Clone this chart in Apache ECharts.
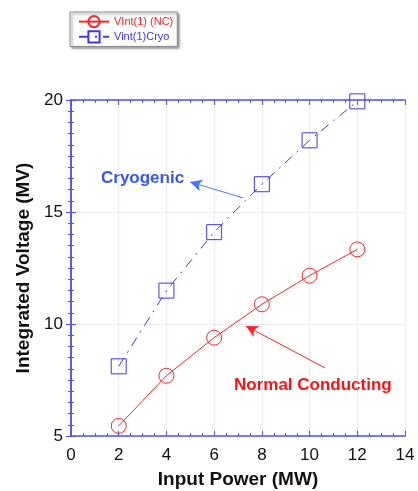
<!DOCTYPE html>
<html>
<head>
<meta charset="utf-8">
<script src="https://cdn.jsdelivr.net/npm/echarts@6/dist/echarts.min.js"></script>
<style>
  html, body { margin: 0; padding: 0; background: #fff; }
  #chart { width: 418px; height: 491px; }
</style>
</head>
<body>
<div id="chart"></div>
<script>
const power = [2, 4, 6, 8, 10, 12];
const vintNC = [5.45, 7.69, 9.39, 10.88, 12.16, 13.33];
const vintCryo = [8.11, 11.49, 14.1, 16.24, 18.2, 19.94];

const FONT = '"Liberation Sans", Arial, sans-serif';
const AXIS_COLOR = '#5050f0';
const RED = '#ff2222';
const BLUE = '#4433ee';

const chart = echarts.init(document.getElementById('chart'));

const tickCommon = {
  axisLine: { show: true, lineStyle: { color: AXIS_COLOR, width: 1.5 } },
  axisTick: { show: true, inside: true, length: 5, lineStyle: { color: AXIS_COLOR } },
  minorTick: { show: true, splitNumber: 4, length: 3, lineStyle: { color: AXIS_COLOR } }
};
const yMinor = { minorTick: { show: true, splitNumber: 10, length: 3, lineStyle: { color: AXIS_COLOR } } };

chart.setOption({
  animation: false,
  textStyle: { fontFamily: FONT },
  grid: { left: 71, right: 13, top: 100, bottom: 55, outerBoundsMode: 'none', containLabel: false },
  legend: {
    orient: 'vertical',
    left: 70, top: 12,
    itemWidth: 30, itemHeight: 14, itemGap: 2,
    padding: [3, 4, 3, 8],
    borderColor: '#888', borderWidth: 1,
    shadowColor: 'rgba(0,0,0,0.4)', shadowOffsetX: 2, shadowOffsetY: 2, shadowBlur: 2,
    backgroundColor: '#fff',
    textStyle: { fontSize: 11, fontFamily: FONT },
    data: [
      { name: 'VInt(1) (NC)', textStyle: { color: RED } },
      { name: 'Vint(1)Cryo', textStyle: { color: BLUE } }
    ]
  },
  xAxis: [
    Object.assign({
      type: 'value', min: 0, max: 14, interval: 2,
      name: 'Input Power (MW)', nameLocation: 'middle', nameGap: 34,
      nameTextStyle: { fontSize: 19, fontWeight: 'bold', color: '#111' },
      axisLabel: { fontSize: 17, color: '#111', margin: 11 },
      splitLine: { show: true, lineStyle: { color: '#d8d8f0', type: 'dotted' } }
    }, tickCommon),
    Object.assign({
      type: 'value', min: 0, max: 14, interval: 2, position: 'top',
      axisLabel: { show: false }, splitLine: { show: false }
    }, tickCommon)
  ],
  yAxis: [
    Object.assign({
      type: 'value', min: 5, max: 20, interval: 5,
      name: 'Integrated Voltage (MV)', nameLocation: 'middle', nameGap: 36,
      nameTextStyle: { fontSize: 19, fontWeight: 'bold', color: '#111' },
      axisLabel: { fontSize: 17, color: '#111', margin: 8 },
      splitLine: { show: true, lineStyle: { color: '#d8d8f0', type: 'dotted' } }
    }, tickCommon, yMinor),
    Object.assign({
      type: 'value', min: 5, max: 20, interval: 5, position: 'right',
      axisLabel: { show: false }, splitLine: { show: false }
    }, tickCommon, yMinor)
  ],
  series: [
    {
      name: 'VInt(1) (NC)', type: 'line',
      data: power.map((p, i) => [p, vintNC[i]]),
      symbol: 'circle', symbolSize: 15,
      itemStyle: { color: 'rgba(255,255,255,0)', borderColor: RED, borderWidth: 1 },
      lineStyle: { color: RED, width: 1 },
      markLine: {
        silent: true, symbol: ['none', 'arrow'], symbolSize: [9, 12],
        lineStyle: { color: RED, width: 1, type: 'solid' },
        label: { show: false },
        data: [[{ coord: [10.65, 8.04] }, { coord: [7.33, 9.91] }]]
      }
    },
    {
      name: 'Vint(1)Cryo', type: 'line',
      data: power.map((p, i) => [p, vintCryo[i]]),
      symbol: 'rect', symbolSize: 15,
      itemStyle: { color: 'rgba(255,255,255,0)', borderColor: BLUE, borderWidth: 1 },
      lineStyle: { color: BLUE, width: 1, type: [10, 6, 2, 6] },
      markLine: {
        silent: true, symbol: ['none', 'arrow'], symbolSize: [9, 12],
        lineStyle: { color: '#4477ff', width: 1, type: 'solid' },
        label: { show: false },
        data: [[{ coord: [7.21, 15.63] }, { coord: [4.99, 16.34] }]]
      }
    }
  ],
  graphic: [
    { type: 'text', left: 101, top: 170,
      style: { text: 'Cryogenic', fill: '#3355ff', font: 'bold 17px ' + FONT } },
    { type: 'text', left: 234, top: 377,
      style: { text: 'Normal Conducting', fill: '#ff1111', font: 'bold 17px ' + FONT } }
  ]
});
</script>
</body>
</html>
